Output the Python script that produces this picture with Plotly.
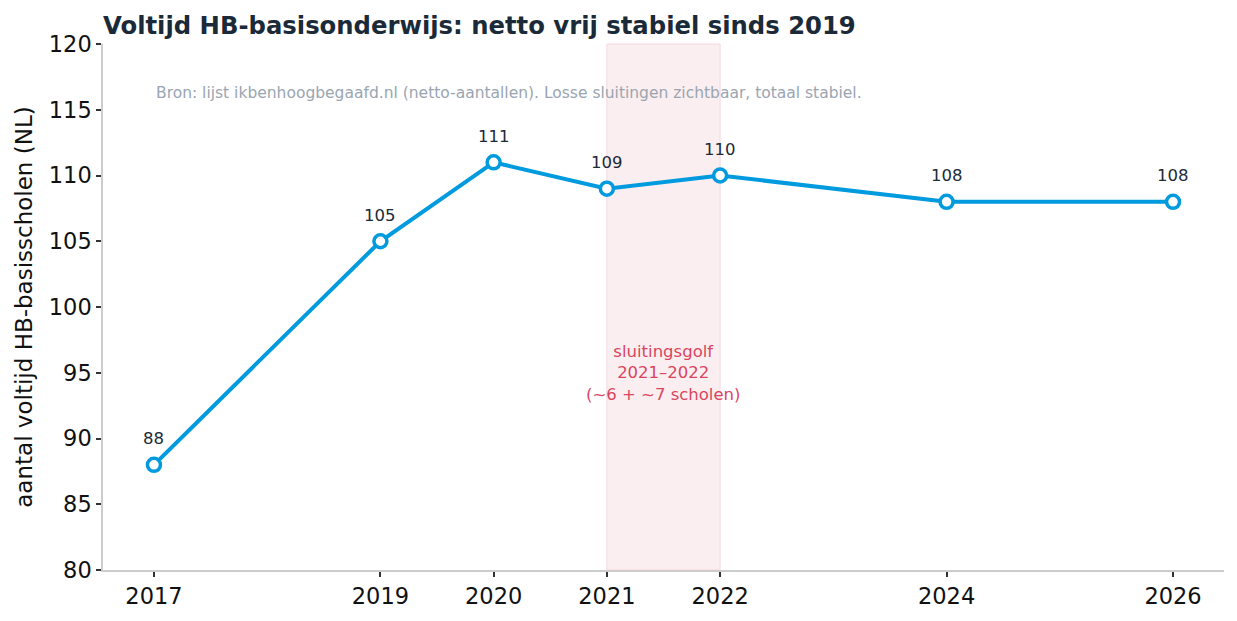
import plotly.graph_objects as go

years = [2017, 2019, 2020, 2021, 2022, 2024, 2026]
counts = [88, 105, 111, 109, 110, 108, 108]
tick_years = [2017, 2019, 2020, 2021, 2022, 2024, 2026]
y_ticks = [80, 85, 90, 95, 100, 105, 110, 115, 120]

fig = go.Figure()

fig.add_vrect(x0=2021, x1=2022, fillcolor="#fbeef0", line=dict(color="#f6d9de", width=1),
              layer="below")

fig.add_trace(go.Scatter(
    x=years, y=counts, mode="lines+markers",
    line=dict(color="#009ADE", width=4),
    marker=dict(size=13, color="white", line=dict(color="#009ADE", width=3.5)),
    cliponaxis=False, showlegend=False,
))

for xv, yv in zip(years, counts):
    fig.add_annotation(x=xv, y=yv, text=str(yv), showarrow=False, yshift=26,
                       font=dict(family="DejaVu Sans", size=16.5, color="#1b2a38"))

fig.add_annotation(x=2021.5, y=95, text="sluitingsgolf<br>2021–2022<br>(~6 + ~7 scholen)",
                   showarrow=False, font=dict(family="DejaVu Sans", size=16.5, color="#d9455f"),
                   align="center")
fig.add_annotation(x=2017, y=116.3, xanchor="left", yanchor="middle",
                   text="Bron: lijst ikbenhoogbegaafd.nl (netto-aantallen). Losse sluitingen zichtbaar, totaal stabiel.",
                   showarrow=False, font=dict(family="DejaVu Sans", size=15.5, color="#9aa5b1"))

fig.update_layout(
    width=1237, height=621,
    margin=dict(l=103, r=13, t=44, b=51),
    paper_bgcolor="white", plot_bgcolor="white",
    title=dict(text="<b>Voltijd HB-basisonderwijs: netto vrij stabiel sinds 2019</b>",
               x=103/1237, xanchor="left", y=1-25/621, yanchor="middle",
               font=dict(family="DejaVu Sans", size=24.3, color="#1b2a38")),
    font=dict(family="DejaVu Sans", color="#111"),
)
fig.update_xaxes(range=[2016.55, 2026.45], tickvals=tick_years, ticktext=[str(t) for t in tick_years],
                 showgrid=False, zeroline=False, showline=True, linecolor="#cccccc", linewidth=1.5,
                 ticks="outside", ticklen=5, tickcolor="#333", tickwidth=1.5,
                 tickfont=dict(size=22.5, color="#111"))
fig.update_yaxes(range=[80, 120], tickvals=y_ticks, showgrid=False, zeroline=False,
                 showline=True, linecolor="#cccccc", linewidth=1.5,
                 ticks="outside", ticklen=5, tickcolor="#333", tickwidth=1.5,
                 tickfont=dict(size=22.5, color="#111"),
                 title=dict(text="aantal voltijd HB-basisscholen (NL)", font=dict(size=23, color="#111"),
                            standoff=10))

fig.write_html("out.html")
